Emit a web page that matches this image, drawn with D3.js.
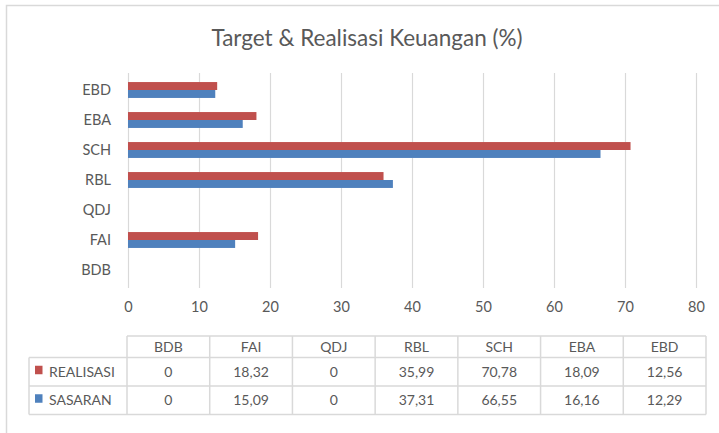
<!DOCTYPE html>
<html><head><meta charset="utf-8">
<script src="https://cdn.jsdelivr.net/npm/d3@7"></script>
<style>html,body{margin:0;padding:0;background:#fff;}svg{display:block;font-family:Lato,"Open Sans",sans-serif;}</style>
</head><body><svg id="c" width="719" height="433"></svg>
<script>
const categories = ["BDB","FAI","QDJ","RBL","SCH","EBA","EBD"];
const realisasi = [0,18.32,0,35.99,70.78,18.09,12.56];
const sasaran = [0,15.09,0,37.31,66.55,16.16,12.29];
const realisasiLabels = ["0","18,32","0","35,99","70,78","18,09","12,56"];
const sasaranLabels = ["0","15,09","0","37,31","66,55","16,16","12,29"];
const xTicks = [0,10,20,30,40,50,60,70,80];
const seriesNames = ["REALISASI","SASARAN"];
const colors = ["#C0504D","#4F81BD"];
const title = "Target & Realisasi Keuangan (%)";

const svg = d3.select("#c");
const txt = "#595959";

// outer frame
svg.append("rect").attr("x",6.5).attr("y",5.5).attr("width",730).attr("height",440)
  .attr("fill","none").attr("stroke","#d9d9d9").attr("stroke-width",1.5);

svg.append("text").attr("x",367).attr("y",46).attr("text-anchor","middle")
  .attr("font-size",22.5).attr("fill",txt).text(title);

const x = d3.scaleLinear().domain([0,80]).range([128,696]);
const y = d3.scaleBand().domain(categories.slice().reverse()).range([75,285]).paddingInner(0.47).paddingOuter(0.235);
const ySub = d3.scaleBand().domain(seriesNames).range([0,y.bandwidth()]);

// gridlines
svg.append("g").selectAll("line").data(xTicks).join("line")
  .attr("x1",d=>x(d)+0.5).attr("x2",d=>x(d)+0.5).attr("y1",73).attr("y2",288)
  .attr("stroke","#d9d9d9").attr("stroke-width",1.2);

// x axis labels
const xAxis = d3.axisBottom(x).tickValues(xTicks).tickSize(0).tickPadding(0);
const gx = svg.append("g").attr("transform","translate(0,302)").call(xAxis);
gx.select(".domain").remove();
gx.selectAll("text").attr("font-size",14.5).attr("fill",txt).attr("font-family","Lato,sans-serif");

// y axis labels
const yAxis = d3.axisLeft(y).tickSize(0).tickPadding(0);
const gy = svg.append("g").attr("transform","translate(111,0)").call(yAxis);
gy.select(".domain").remove();
gy.selectAll("text").attr("font-size",14.5).attr("fill",txt).attr("font-family","Lato,sans-serif");

const seriesData = [realisasi, sasaran];
seriesNames.forEach((s,si)=>{
  svg.append("g").selectAll("rect").data(categories).join("rect")
    .attr("x",x(0))
    .attr("y",(c)=>y(c)+ySub(s))
    .attr("width",(c,i)=>x(seriesData[si][i])-x(0))
    .attr("height",ySub.bandwidth())
    .attr("fill",colors[si]);
});

// data table
const colX = d3.scaleBand().domain(categories).range([127,706]);
const rowsY = [336,357.5,386,414.5];
const tb = svg.append("g").attr("stroke","#d9d9d9").attr("stroke-width",1.5);
tb.append("line").attr("x1",127).attr("x2",706).attr("y1",rowsY[0]).attr("y2",rowsY[0]);
[1,2,3].forEach(r=>tb.append("line").attr("x1",29).attr("x2",706).attr("y1",rowsY[r]).attr("y2",rowsY[r]));
tb.append("line").attr("x1",29).attr("x2",29).attr("y1",rowsY[1]).attr("y2",rowsY[3]);
categories.concat(["_end"]).forEach((c,i)=>{
  const xx = 127 + i*colX.bandwidth();
  tb.append("line").attr("x1",xx).attr("x2",xx).attr("y1",rowsY[0]).attr("y2",rowsY[3]);
});
const tt = svg.append("g").attr("font-size",14).attr("fill",txt).attr("text-anchor","middle");
categories.forEach(c=>{
  tt.append("text").attr("x",colX(c)+colX.bandwidth()/2).attr("y",(rowsY[0]+rowsY[1])/2+5).text(c);
});
const labelRows = [realisasiLabels, sasaranLabels];
labelRows.forEach((lab,r)=>{
  const cy = (rowsY[r+1]+rowsY[r+2])/2+5;
  categories.forEach((c,i)=>{
    tt.append("text").attr("x",colX(c)+colX.bandwidth()/2).attr("y",cy).text(lab[i]);
  });
  svg.append("rect").attr("x",35).attr("y",cy-11).attr("width",7.5).attr("height",8.5).attr("fill",colors[r]);
  svg.append("text").attr("x",49).attr("y",cy).attr("font-size",14).attr("fill",txt).text(seriesNames[r]);
});
</script></body></html>
